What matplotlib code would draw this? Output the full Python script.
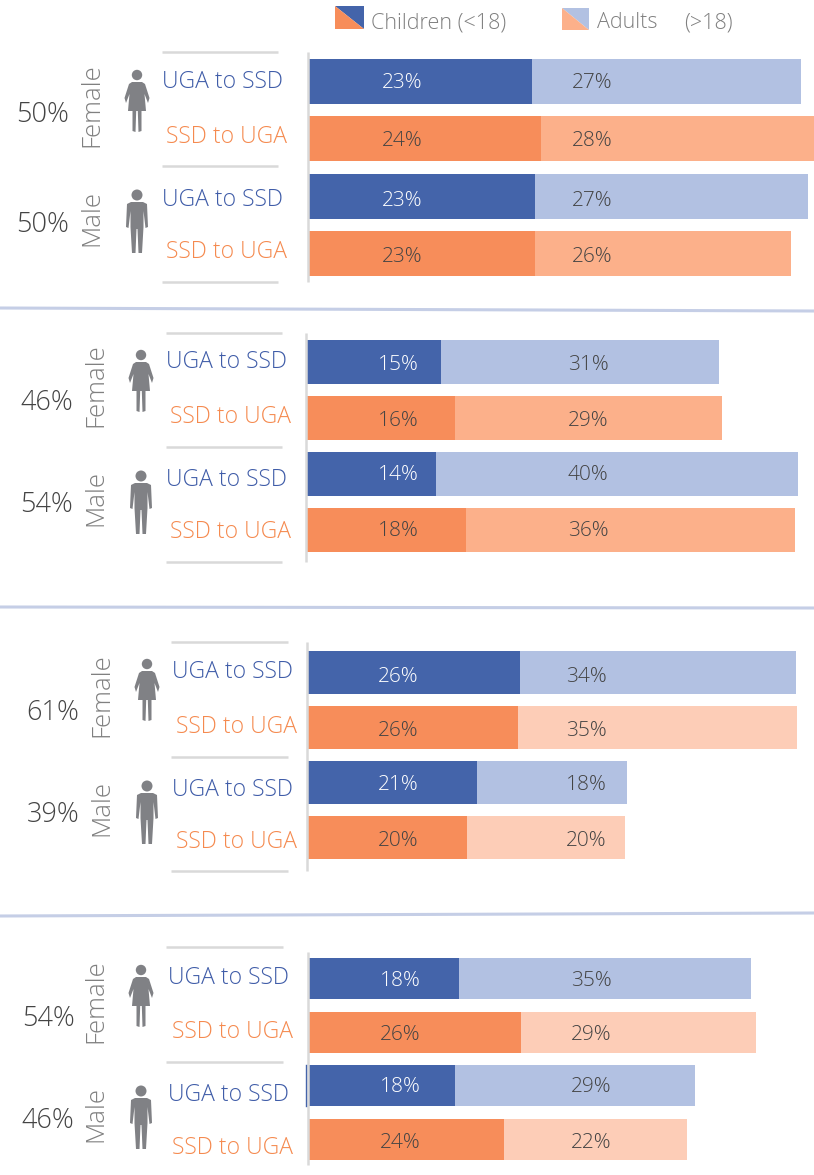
import matplotlib.pyplot as plt
from matplotlib.patches import Circle, Polygon
from matplotlib.collections import LineCollection

W, H = 814, 1175

routes = ["UGA to SSD", "SSD to UGA", "UGA to SSD", "SSD to UGA"]
genders = ["Female", "Male"]

# bar lengths, the labels are the printed ones
children = [
    [22.8, 23.7, 23.1, 23.1],
    [14.8, 16.4, 14.3, 17.6],
    [26.2, 25.9, 20.9, 19.6],
    [18.2, 25.7, 17.7, 23.6],
]
adults = [
    [27.4, 27.9, 27.8, 26.1],
    [30.7, 29.5, 40.0, 36.3],
    [34.0, 34.5, 18.5, 19.5],
    [35.4, 28.5, 29.1, 22.2],
]
children_labels = [
    ["23%", "24%", "23%", "23%"],
    ["15%", "16%", "14%", "18%"],
    ["26%", "26%", "21%", "20%"],
    ["18%", "26%", "18%", "24%"],
]
adults_labels = [
    ["27%", "28%", "27%", "26%"],
    ["31%", "29%", "40%", "36%"],
    ["34%", "35%", "18%", "20%"],
    ["35%", "29%", "29%", "22%"],
]
gender_share = [["50%", "50%"], ["46%", "54%"], ["61%", "39%"], ["54%", "46%"]]

# --- layout, in pixels of the reference ---
bar_x0 = [309, 307, 308, 309]
bar_scale = [9.8, 9.05, 8.1, 8.25]
bar_centers = [
    [81.5, 138.5, 196.5, 253.5],
    [362, 418, 474, 529.5],
    [672.5, 727.5, 782.5, 837.5],
    [978.5, 1032.5, 1085.5, 1139.5],
]
bar_heights = [45, 44, 43, 41]
label_y = [
    [80, 138, 198, 254],
    [363, 419, 473, 528],
    [675, 729, 782, 838],
    [978, 1032, 1084, 1140],
]
child_label_x = [402, 398, 398, 400]
adult_label_x = [592, 588, 586, 591]
share_x = [43, 47, 53, 48]
share_y = [[111, 221], [399, 502], [709, 811], [1015, 1117]]
gender_x = [92, 96, 102, 96]
gender_y = [[105, 218], [385, 498], [695, 808], [1001, 1114]]
icon_x = [137, 141, 147, 141]
icon_top = [[70, 189], [350, 470], [659, 780], [965, 1085]]
route_x = [223, 227, 233, 228]
route_y = [
    [79, 134, 197, 249],
    [359, 414, 477, 529],
    [669, 724, 787, 839],
    [975, 1029, 1092, 1145],
]
route_dx = [0, 4, 0, 4]
rule_x = [(162, 278), (166, 282), (171, 288), (166, 283)]
rule_y = [[52, 166, 282], [333, 447, 562], [642, 757, 871], [947, 1062]]
axis_line = [(308, 52, 282), (306, 333, 562), (307, 642, 871), (308, 952, 1165)]
separators = [((0, 308), (814, 311)), ((0, 607), (814, 608)), ((0, 916), (814, 913))]

dark_blue = "#4464AA"
orange = "#F78D5A"
light_blue = "#B2C1E2"
light_orange = ["#FCB08A", "#FCB08A", "#FDCDB7", "#FDCDB7"]
route_colors = ["#3F5CA8", "#F58A4F", "#3F5CA8", "#F58A4F"]
grey = "#808080"
dark = "#444444"
icon_grey = "#808185"

plt.rcParams["font.family"] = ["Open Sans", "DejaVu Sans"]
plt.rcParams["font.weight"] = 300

fig = plt.figure(figsize=(W / 100, H / 100), dpi=100)

# overlay in pixel coordinates for everything that is not a bar
over = fig.add_axes([0, 0, 1, 1], zorder=3)
over.set_xlim(0, W)
over.set_ylim(H, 0)
over.axis("off")


def person(ax, cx, top, female):
    if female:
        ax.add_patch(Circle((cx, top + 5), 5.2, color=icon_grey, lw=0))
        body = [(-5, 12), (5, 12), (8, 14), (12.5, 28), (11, 33), (7.5, 24), (9, 41),
                (4.5, 41), (4.5, 61), (1.5, 62), (0.8, 41), (-0.8, 41), (-1.5, 62),
                (-4.5, 61), (-4.5, 41), (-9, 41), (-7.5, 24), (-11, 33), (-12.5, 28), (-8, 14)]
    else:
        ax.add_patch(Circle((cx, top + 6), 5.5, color=icon_grey, lw=0))
        body = [(-6, 13), (6, 13), (10, 15), (11, 38), (8.5, 39), (6.5, 22), (6.5, 38),
                (5, 64), (1.5, 64), (0.5, 40), (-0.5, 40), (-1.5, 64), (-5, 64),
                (-6.5, 38), (-6.5, 22), (-8.5, 39), (-11, 38), (-10, 15)]
    ax.add_patch(Polygon([(cx + dx, top + dy) for dx, dy in body], closed=True, color=icon_grey, lw=0))


for p in range(4):
    # one set of axes per panel, each panel has its own scale in the source
    step = (bar_centers[p][3] - bar_centers[p][0]) / 3
    top = bar_centers[p][0] - step / 2
    bottom = bar_centers[p][3] + step / 2
    x0 = bar_x0[p]
    ax = fig.add_axes([x0 / W, 1 - bottom / H, (W - x0) / W, (bottom - top) / H], zorder=1)
    rows = list(range(4))
    cols = [dark_blue, orange, dark_blue, orange]
    cols2 = [light_blue, light_orange[p], light_blue, light_orange[p]]
    h = bar_heights[p] / step
    ax.barh(rows, children[p], height=h, color=cols)
    ax.barh(rows, adults[p], left=children[p], height=h, color=cols2)
    ax.set_xlim(0, (W - x0) / bar_scale[p])
    ax.set_ylim(3.5, -0.5)
    ax.axis("off")

    for i in rows:
        over.text(child_label_x[p], label_y[p][i], children_labels[p][i], ha="center", va="center_baseline",
                  fontsize=15, color="white" if i % 2 == 0 else dark)
        over.text(adult_label_x[p], label_y[p][i], adults_labels[p][i], ha="center", va="center_baseline",
                  fontsize=15, color=dark)
        over.text(route_x[p] + route_dx[i], route_y[p][i], routes[i], ha="center", va="center_baseline",
                  fontsize=16.5, color=route_colors[i])

    for g in range(2):
        over.text(share_x[p], share_y[p][g], gender_share[p][g], ha="center", va="center_baseline",
                  fontsize=19.5, color=dark)
        over.text(gender_x[p], gender_y[p][g], genders[g], ha="center", va="center", rotation=90,
                  fontsize=18.5, color=grey)
        person(over, icon_x[p], icon_top[p][g], g == 0)

    for y in rule_y[p]:
        over.plot(rule_x[p], [y, y], color="#D9D9D9", lw=1.8, solid_capstyle="butt")
    lx, ly0, ly1 = axis_line[p]
    over.plot([lx, lx], [ly0, ly1], color="#D9D9D9", lw=1.8, solid_capstyle="butt")

over.plot([306, 306], [1065, 1106], color=dark_blue, lw=1)
over.add_collection(LineCollection(separators, colors="#C5CEE6", linewidths=2.2))

# legend swatches, split along the diagonal
over.add_patch(Polygon([(335, 6), (364, 6), (364, 29)], closed=True, color=dark_blue, lw=0))
over.add_patch(Polygon([(335, 6), (335, 29), (364, 29)], closed=True, color=orange, lw=0))
over.add_patch(Polygon([(562, 8), (589, 8), (589, 30)], closed=True, color=light_blue, lw=0))
over.add_patch(Polygon([(562, 8), (562, 30), (589, 30)], closed=True, color="#FCB08A", lw=0))
over.text(371, 20, "Children (<18)", ha="left", va="center_baseline", fontsize=15.5, color=grey)
over.text(597, 20, "Adults", ha="left", va="center_baseline", fontsize=15.5, color=grey)
over.text(684, 20, "(>18)", ha="left", va="center_baseline", fontsize=15.5, color=grey)

fig.savefig("out.png", dpi=100)
